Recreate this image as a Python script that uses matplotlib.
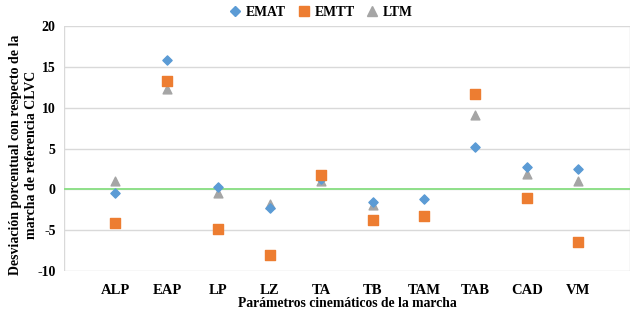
import matplotlib.pyplot as plt
from matplotlib.lines import Line2D

# Parámetros de la marcha
categorias = ["ALP", "EAP", "LP", "LZ", "TA", "TB", "TAM", "TAB", "CAD", "VM"]
emat = [-0.5, 15.8, 0.3, -2.3, 1.3, -1.5, -1.2, 5.2, 2.8, 2.5]
emtt = [-4.1, 13.3, -4.8, -8.0, 1.7, -3.8, -3.3, 11.7, -1.0, -6.4]
ltm = [1.0, 12.3, -0.4, -1.8, 1.0, -1.9, -3.2, 9.1, 1.9, 1.0]

plt.rcParams['font.family'] = ['Liberation Serif', 'DejaVu Serif']
plt.rcParams['font.weight'] = 'bold'
plt.rcParams['axes.labelweight'] = 'bold'
plt.rcParams['axes.unicode_minus'] = False

fig = plt.figure(figsize=(6.3, 3.16), dpi=100)
ax = fig.add_axes([0.1016, 0.142, 0.898, 0.776])

x = list(range(1, len(categorias) + 1))
ax.axhline(0, color='#8fe08a', lw=1.4, zorder=1)
ax.scatter(x, emat, marker='D', s=22, color='#5b9bd5', zorder=3, label='EMAT')
ax.scatter(x, emtt, marker='s', s=52, color='#ed7d31', zorder=3, label='EMTT')
ax.scatter(x, ltm, marker='^', s=40, color='#a5a5a5', zorder=2, label='LTM')

ax.set_xlim(0, 11)
ax.set_ylim(-10, 20)
ax.set_yticks([-10, -5, 0, 5, 10, 15, 20])
ax.set_xticks(x)
ax.set_xticklabels(categorias)
ax.set_xticks(range(0, 12), minor=True)
ax.grid(True, which='minor', axis='x', color='#d9d9d9', lw=1)
ax.grid(True, which='major', axis='y', color='#d9d9d9', lw=1)
ax.set_axisbelow(True)
ax.tick_params(axis='both', which='both', length=0, labelsize=10)
ax.tick_params(axis='x', labelsize=10.5, pad=9)
ax.tick_params(axis='y', pad=6)
for s in ax.spines.values():
    s.set_visible(False)

ax.set_xlabel("Parámetros cinemáticos de la marcha", fontsize=9.8, labelpad=0)
fig.text(0.037, 0.51, "Desviación porcentual con respecto de la\nmarcha de referencia CLVC",
         rotation=90, ha='center', va='center', fontsize=10, fontweight='bold',
         linespacing=1.25)

handles = [
    Line2D([], [], marker='D', ls='', color='#5b9bd5', ms=5),
    Line2D([], [], marker='s', ls='', color='#ed7d31', ms=7),
    Line2D([], [], marker='^', ls='', color='#a5a5a5', ms=7),
]
fig.legend(handles, ['EMAT', 'EMTT', 'LTM'], loc='center', bbox_to_anchor=(0.51, 0.96),
           ncol=3, frameon=False, fontsize=9.8, handletextpad=0.4, columnspacing=0.9,
           handlelength=0.8)

fig.savefig('out.png', dpi=100)
